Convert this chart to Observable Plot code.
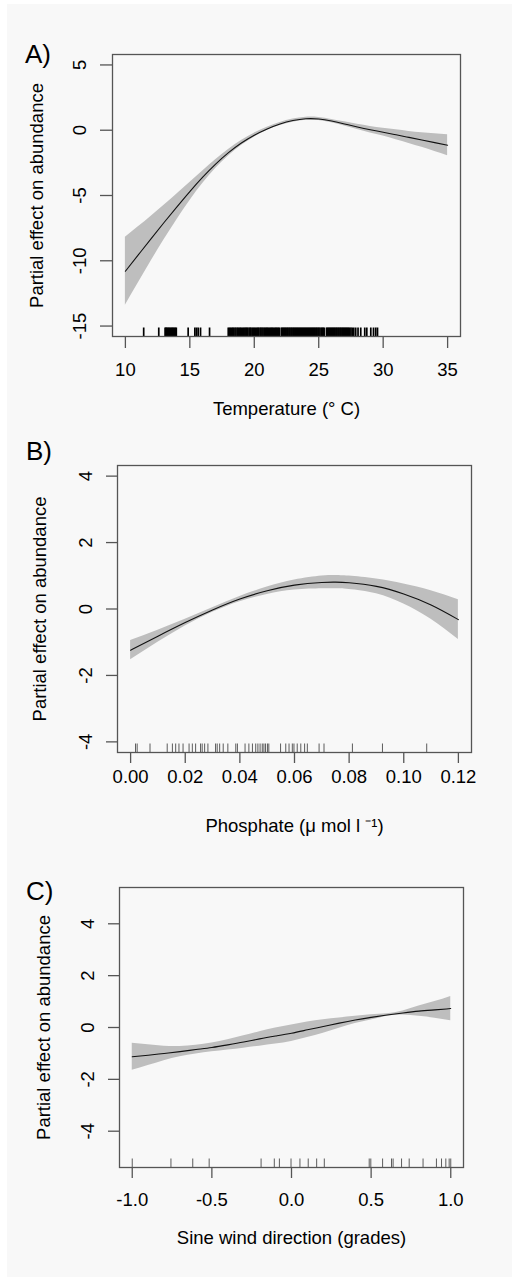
<!DOCTYPE html>
<html>
<head>
<meta charset="utf-8">
<script src="https://cdn.jsdelivr.net/npm/d3@7"></script>
<script src="https://cdn.jsdelivr.net/npm/@observablehq/plot@0.6"></script>
<style>
  html, body { margin: 0; padding: 0; background: #ffffff; }
  #wrap { position: relative; width: 512px; height: 1277px; overflow: hidden; }
  #bg { position: absolute; left: 7px; top: 4px; right: 0; bottom: 0; background: #f8f8f8; }
  .panel { position: absolute; left: 0; }
  .plabel { position: absolute; font-family: "Liberation Sans", Arial, sans-serif; font-size: 26px; line-height: 1; color: #000; }
</style>
</head>
<body>
<div id="wrap">
  <div id="bg"></div>
  <div class="panel" id="pA" style="top:0px"></div>
  <div class="panel" id="pB" style="top:420px"></div>
  <div class="panel" id="pC" style="top:840px"></div>
  <div class="plabel" style="left:25px;top:41px">A)</div>
  <div class="plabel" style="left:26px;top:438px">B)</div>
  <div class="plabel" style="left:26px;top:878px">C)</div>
</div>
<script>
// ---------- Panel A: Temperature ----------
const tempX     = [10, 11, 12, 13, 14, 15, 16, 17, 18, 19, 20, 21, 22, 23, 24, 25, 26, 27, 28, 29, 30, 31, 32, 33, 34, 35];
const tempFit   = [-10.8, -9.55, -8.3, -7.07, -5.87, -4.7, -3.6, -2.6, -1.72, -0.98, -0.38, 0.1, 0.48, 0.74, 0.88, 0.86, 0.7, 0.48, 0.25, 0.04, -0.15, -0.35, -0.55, -0.75, -0.95, -1.15];
const tempUpper = [-8.2, -7.4, -6.58, -5.75, -4.89, -4.0, -3.12, -2.26, -1.47, -0.79, -0.23, 0.23, 0.6, 0.86, 1.0, 0.98, 0.83, 0.64, 0.45, 0.29, 0.15, 0.03, -0.09, -0.19, -0.27, -0.35];
const tempLower = [-13.4, -11.7, -10.02, -8.39, -6.85, -5.4, -4.08, -2.94, -1.97, -1.17, -0.53, -0.03, 0.36, 0.62, 0.76, 0.74, 0.57, 0.32, 0.05, -0.21, -0.45, -0.73, -1.01, -1.31, -1.63, -1.95];
const tempRug = [11.42, 12.59, 13.08, 13.15, 13.2, 13.28, 13.35, 13.42, 13.5, 13.58, 13.65, 13.72, 13.8, 13.88, 13.95, 14.87, 15.39, 15.52, 15.65, 15.83, 16.53,
  17.98, 18.08, 18.15, 18.25, 18.33, 18.4, 18.5, 18.58, 18.68, 18.75, 18.85, 18.92, 19.0, 19.1, 19.18, 19.27, 19.35, 19.42, 19.5, 19.6, 19.68, 19.75, 19.85, 19.93,
  20.02, 20.1, 20.2, 20.28, 20.35, 20.45, 20.52, 20.6, 20.68, 20.77, 20.85, 20.93, 21.0, 21.08, 21.17, 21.25, 21.33, 21.4, 21.48, 21.57, 21.65, 21.72, 21.8, 21.88, 21.95,
  22.1, 22.17, 22.25, 22.32, 22.4, 22.47, 22.55, 22.62, 22.7, 22.77, 22.85, 22.92, 23.0, 23.07, 23.15, 23.22, 23.3, 23.37, 23.45, 23.52, 23.6, 23.67, 23.75, 23.82, 23.9, 23.97,
  24.05, 24.12, 24.2, 24.27, 24.35, 24.42, 24.5, 24.57, 24.65, 24.72, 24.8, 24.87, 24.95, 25.02, 25.1, 25.2, 25.27, 25.35, 25.42, 25.6, 25.67, 25.75, 25.82, 25.9, 25.97,
  26.05, 26.12, 26.2, 26.27, 26.35, 26.42, 26.5, 26.57, 26.65, 26.72, 26.8, 26.87, 26.95, 27.02, 27.1, 27.17, 27.25, 27.32, 27.4, 27.5, 27.6, 27.72,
  27.87, 28.05, 28.26, 28.57, 28.73, 29.04, 29.25, 29.42, 29.56];
const tempXTicks = [10, 15, 20, 25, 30, 35];
const tempXTickLabels = ["10", "15", "20", "25", "30", "35"];
const tempYTicks = [-15, -10, -5, 0, 5];
const tempYTickLabels = ["-15", "-10", "-5", "0", "5"];

// ---------- Panel B: Phosphate ----------
const phosX     = [0.0, 0.01, 0.02, 0.03, 0.04, 0.05, 0.06, 0.07, 0.075, 0.08, 0.09, 0.1, 0.11, 0.12];
const phosFit   = [-1.24, -0.82, -0.41, -0.03, 0.3, 0.55, 0.72, 0.8, 0.81, 0.79, 0.68, 0.45, 0.12, -0.32];
const phosUpper = [-0.95, -0.64, -0.31, 0.04, 0.38, 0.66, 0.87, 0.99, 1.01, 0.99, 0.9, 0.75, 0.55, 0.28];
const phosLower = [-1.53, -1.0, -0.51, -0.1, 0.22, 0.44, 0.57, 0.61, 0.61, 0.59, 0.46, 0.15, -0.31, -0.92];
const phosRug = [0.0018, 0.0024, 0.0071, 0.0134, 0.0153, 0.0165, 0.0177, 0.0192, 0.0214, 0.0226, 0.0238, 0.0256, 0.0262, 0.0271, 0.0283,
  0.0311, 0.0317, 0.0326, 0.0339, 0.0356, 0.0385, 0.0391, 0.0419, 0.0433, 0.0446, 0.0458, 0.0466, 0.0474, 0.0482, 0.0488, 0.0494, 0.0501, 0.0506,
  0.0549, 0.0568, 0.058, 0.0592, 0.0598, 0.061, 0.0623, 0.0637, 0.0647, 0.069, 0.0708, 0.0812, 0.0922, 0.1084];
const phosXTicks = [0.0, 0.02, 0.04, 0.06, 0.08, 0.1, 0.12];
const phosXTickLabels = ["0.00", "0.02", "0.04", "0.06", "0.08", "0.10", "0.12"];
const phosYTicks = [-4, -2, 0, 2, 4];
const phosYTickLabels = ["-4", "-2", "0", "2", "4"];

// ---------- Panel C: Sine wind direction ----------
const windX     = [-1.0, -0.9, -0.8, -0.7, -0.6, -0.5, -0.4, -0.3, -0.2, -0.1, 0.0, 0.1, 0.2, 0.3, 0.4, 0.5, 0.6, 0.7, 0.8, 0.9, 1.0];
const windFit   = [-1.13, -1.07, -1.0, -0.93, -0.85, -0.77, -0.67, -0.56, -0.44, -0.33, -0.22, -0.09, 0.04, 0.17, 0.29, 0.39, 0.48, 0.56, 0.63, 0.68, 0.73];
const windUpper = [-0.61, -0.67, -0.72, -0.73, -0.68, -0.6, -0.47, -0.32, -0.16, -0.02, 0.1, 0.21, 0.3, 0.37, 0.43, 0.49, 0.53, 0.64, 0.83, 1.0, 1.2];
const windLower = [-1.65, -1.47, -1.28, -1.13, -1.02, -0.94, -0.87, -0.8, -0.72, -0.64, -0.54, -0.39, -0.22, -0.03, 0.15, 0.29, 0.43, 0.48, 0.43, 0.36, 0.26];
const windRug = [-1.0, -0.757, -0.62, -0.517, -0.191, -0.108, -0.076, -0.003, 0.053, 0.105, 0.158, 0.206, 0.488, 0.498, 0.572, 0.628, 0.638, 0.691, 0.739, 0.826, 0.91, 0.942, 0.969, 0.99, 1.0];
const windXTicks = [-1.0, -0.5, 0.0, 0.5, 1.0];
const windXTickLabels = ["-1.0", "-0.5", "0.0", "0.5", "1.0"];
const windYTicks = [-4, -2, 0, 2, 4];
const windYTickLabels = ["-4", "-2", "0", "2", "4"];

const yTitle = "Partial effect on abundance";
const FONT = "Liberation Sans, Arial, Helvetica, sans-serif";

function panel(o) {
  const rows = o.xs.map((x, i) => ({x, fit: o.fit[i], lo: o.lo[i], hi: o.hi[i]}));
  const innerH = o.height - o.mt - o.mb;
  return Plot.plot({
    width: 512,
    height: o.height,
    marginTop: o.mt, marginRight: o.mr, marginBottom: o.mb, marginLeft: o.ml,
    style: {background: "transparent", fontFamily: FONT, color: "#000", overflow: "visible"},
    x: {domain: o.xDomain, axis: null},
    y: {domain: o.yDomain, axis: null},
    marks: [
      Plot.areaY(rows, {x: "x", y1: "lo", y2: "hi", fill: "#bebebe", curve: "natural"}),
      Plot.line(rows, {x: "x", y: "fit", stroke: "#111", strokeWidth: 1.1, curve: "natural"}),
      Plot.ruleX(o.rug, {x: d => d, insetTop: innerH - 8.5, stroke: o.rugColor, strokeWidth: o.rugWidth}),
      Plot.frame({stroke: "#555", strokeWidth: 1.3}),
      Plot.axisX({ticks: o.xTicks, tickSize: o.tick, tickFormat: () => "", stroke: "#555", strokeWidth: 1.3, label: null}),
      Plot.axisY({ticks: o.yTicks, tickSize: o.tick, tickFormat: () => "", stroke: "#555", strokeWidth: 1.3, label: null}),
      Plot.text(o.xTicks, {x: d => d, text: (d, i) => o.xTickLabels[i], frameAnchor: "bottom", dy: o.xLabDy, lineAnchor: "middle", textAnchor: "middle", fontSize: 18.5, fill: "#000"}),
      Plot.text(o.yTicks, {y: d => d, text: (d, i) => o.yTickLabels[i], frameAnchor: "left", dx: o.yLabDx, rotate: -90, lineAnchor: "middle", textAnchor: "middle", fontSize: 18.5, fill: "#000"}),
      Plot.text([o.xTitle], {text: d => d, frameAnchor: "bottom", dy: o.xTitleDy, lineAnchor: "middle", textAnchor: "middle", fontSize: 18.5, fill: "#000"}),
      Plot.text([yTitle], {text: d => d, frameAnchor: "left", dx: o.yTitleDx, rotate: -90, lineAnchor: "middle", textAnchor: "middle", fontSize: 18.5, fill: "#000"})
    ]
  });
}

document.getElementById("pA").appendChild(panel({
  xs: tempX, fit: tempFit, lo: tempLower, hi: tempUpper, rug: tempRug, rugColor: "#000", rugWidth: 1.7,
  xDomain: [9, 36], yDomain: [-15.8, 5.8],
  xTicks: tempXTicks, xTickLabels: tempXTickLabels, yTicks: tempYTicks, yTickLabels: tempYTickLabels,
  xTitle: "Temperature (° C)",
  height: 420, mt: 54, mr: 52, mb: 84, ml: 112, tick: 12,
  xLabDy: 34, yLabDx: -32, xTitleDy: 73, yTitleDx: -75
}));

document.getElementById("pB").appendChild(panel({
  xs: phosX, fit: phosFit, lo: phosLower, hi: phosUpper, rug: phosRug, rugColor: "#333", rugWidth: 0.8,
  xDomain: [-0.0048, 0.1248], yDomain: [-4.32, 4.32],
  xTicks: phosXTicks, xTickLabels: phosXTickLabels, yTicks: phosYTicks, yTickLabels: phosYTickLabels,
  xTitle: "Phosphate (μ mol l ⁻¹)",
  height: 420, mt: 45, mr: 41, mb: 88, ml: 117, tick: 11,
  xLabDy: 25, yLabDx: -31, xTitleDy: 74, yTitleDx: -77
}));

document.getElementById("pC").appendChild(panel({
  xs: windX, fit: windFit, lo: windLower, hi: windUpper, rug: windRug, rugColor: "#333", rugWidth: 0.8,
  xDomain: [-1.08, 1.08], yDomain: [-5.4, 5.4],
  xTicks: windXTicks, xTickLabels: windXTickLabels, yTicks: windYTicks, yTickLabels: windYTickLabels,
  xTitle: "Sine wind direction (grades)",
  height: 437, mt: 47, mr: 49, mb: 110, ml: 119, tick: 11,
  xLabDy: 33, yLabDx: -31, xTitleDy: 71, yTitleDx: -75
}));
</script>
</body>
</html>
